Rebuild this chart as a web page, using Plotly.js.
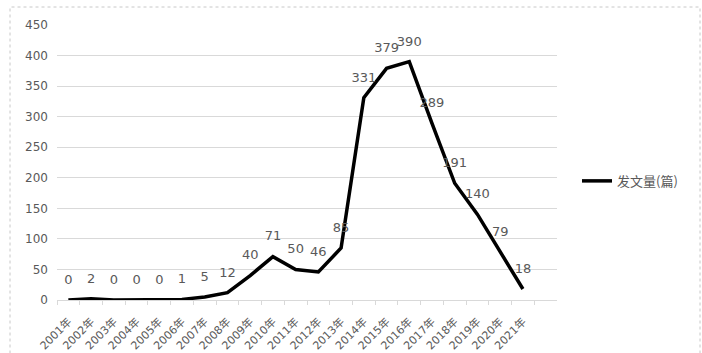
<!DOCTYPE html>
<html>
<head>
<meta charset="utf-8">
<script src="https://cdn.plot.ly/plotly-3.0.1.min.js"></script>
<style>
html,body{margin:0;padding:0;background:#fff;}
#chart{width:702px;height:353px;}
</style>
</head>
<body>
<div id="chart"></div>
<script>
var years = ["2001年","2002年","2003年","2004年","2005年","2006年","2007年","2008年","2009年","2010年","2011年","2012年","2013年","2014年","2015年","2016年","2017年","2018年","2019年","2020年","2021年"];
var counts = [0,2,0,0,0,1,5,12,40,71,50,46,85,331,379,390,289,191,140,79,18];
var seriesName = "发文量(篇)";
var yTicks = [0,50,100,150,200,250,300,350,400,450];

var trace = {
  x: years,
  y: counts,
  type: "scatter",
  mode: "lines+markers+text",
  name: seriesName,
  text: counts.map(String),
  textposition: "top center",
  textfont: {family: "DejaVu Sans, Noto Sans CJK SC", size: 13, color: "#595959"},
  line: {color: "#000000", width: 3.5},
  marker: {size: 19, color: "rgba(0,0,0,0)", line: {width: 0}},
  cliponaxis: false,
  hoverinfo: "x+y"
};

var layout = {
  width: 702,
  height: 353,
  margin: {l: 57, r: 145, t: 25, b: 53},
  paper_bgcolor: "#ffffff",
  plot_bgcolor: "#ffffff",
  font: {family: "DejaVu Sans, Noto Sans CJK SC", color: "#595959"},
  showlegend: true,
  legend: {
    x: 1.04, y: 0.433, xanchor: "left", yanchor: "middle",
    font: {family: "Noto Sans CJK SC, DejaVu Sans", size: 13, color: "#595959"},
    bgcolor: "rgba(0,0,0,0)"
  },
  xaxis: {
    type: "category",
    categoryorder: "array",
    categoryarray: years,
    range: [-0.5, 21.5],
    tickson: "boundaries",
    ticks: "outside",
    ticklen: 4,
    tickcolor: "#d9d9d9",
    tickangle: -45,
    ticklabelstandoff: 10,
    tickfont: {family: "DejaVu Sans, Noto Sans CJK SC", size: 11, color: "#595959"},
    showgrid: false,
    showline: true,
    linecolor: "#d9d9d9",
    linewidth: 1,
    zeroline: false,
    fixedrange: true
  },
  yaxis: {
    range: [0, 450],
    tickvals: yTicks,
    ticktext: yTicks.map(String),
    showgrid: true,
    gridcolor: "#d9d9d9",
    gridwidth: 1,
    zeroline: false,
    showline: false,
    ticks: "",
    ticklabelstandoff: 8,
    tickfont: {family: "DejaVu Sans", size: 12, color: "#595959"},
    fixedrange: true
  },
  shapes: [{
    type: "rect", xref: "paper", yref: "paper",
    x0: (10 - 57) / 500, x1: (700 - 57) / 500,
    y0: -0.5, y1: (300 - 7) / 275,
    line: {color: "#c8c8c8", width: 1, dash: "dot"},
    fillcolor: "rgba(0,0,0,0)", layer: "below"
  }]
};

Plotly.newPlot("chart", [trace], layout, {displayModeBar: false, staticPlot: true});
</script>
</body>
</html>
